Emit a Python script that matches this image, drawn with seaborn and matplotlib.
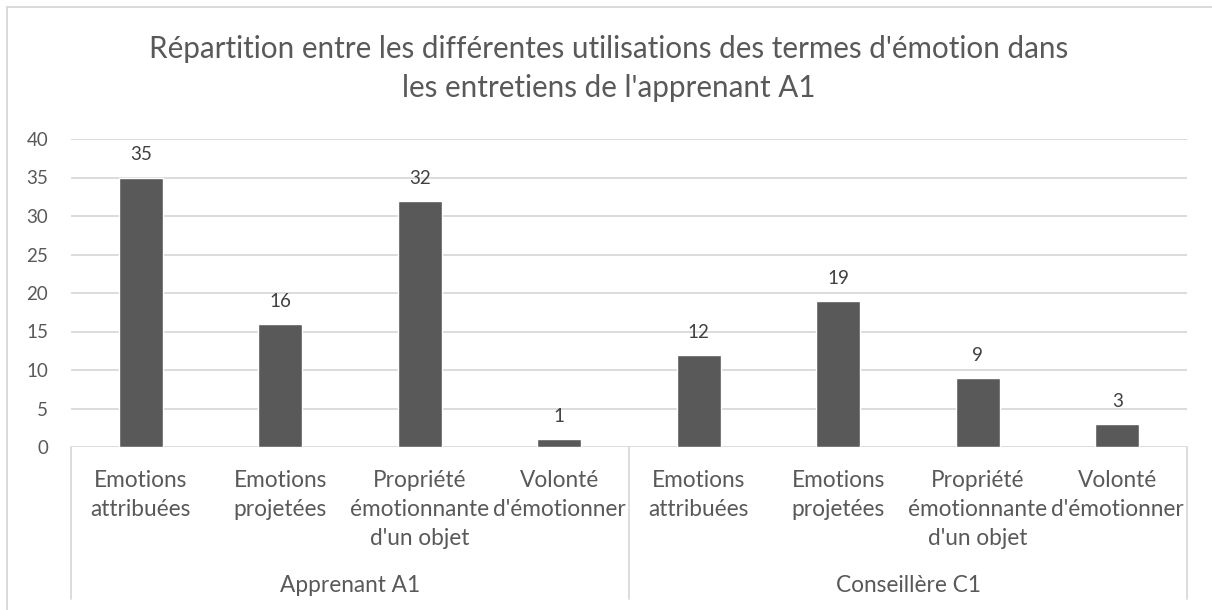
import matplotlib
matplotlib.use("Agg")
import matplotlib.pyplot as plt
from matplotlib.lines import Line2D
from matplotlib.transforms import blended_transform_factory
import seaborn as sns
import pandas as pd

# ---- data -------------------------------------------------------------
groups = ["Apprenant A1", "Conseillère C1"]
categories = [
    "Emotions\nattribuées",
    "Emotions\nprojetées",
    "Propriété\némotionnante\nd'un objet",
    "Volonté\nd'émotionner",
]
apprenant_values = [35, 16, 32, 1]
conseillere_values = [12, 19, 9, 3]
y_ticks = [0, 5, 10, 15, 20, 25, 30, 35, 40]
title_lines = [
    "Répartition entre les différentes utilisations des termes d'émotion dans",
    "les entretiens de l'apprenant A1",
]

# ---- styling ----------------------------------------------------------
sns.set_style("white")
plt.rcParams["font.family"] = ["Lato", "DejaVu Sans"]

BAR = "#595959"
GRID = "#d9d9d9"
TEXT = "#595959"
LABEL = "#404040"

W, H = 1212, 610
fig = plt.figure(figsize=(W / 100, H / 100), dpi=100)


def fy(px):
    """Figure fraction from a pixel row counted from the top."""
    return 1 - px / H


def fx(px):
    return px / W


left_px, right_px, top_px, base_px = 71, 1187, 139, 447
ax = fig.add_axes([fx(left_px), fy(base_px), fx(right_px) - fx(left_px),
                   fy(top_px) - fy(base_px)])

rows = []
for g, vals in zip(groups, [apprenant_values, conseillere_values]):
    for c, v in zip(categories, vals):
        rows.append({"key": f"{g}|{c}", "group": g, "cat": c, "value": v})
df = pd.DataFrame(rows)

sns.barplot(data=df, x="key", y="value", color=BAR, saturation=1,
            width=0.315, ax=ax, zorder=3)

ax.set_xlim(-0.5, len(df) - 0.5)
ax.set_ylim(0, 40)
ax.set_yticks(y_ticks)
ax.set_yticklabels([str(t) for t in y_ticks])
ax.set_xticks([])
ax.set_xlabel("")
ax.set_ylabel("")
for s in ax.spines.values():
    s.set_visible(False)
ax.yaxis.grid(True, color=GRID, linewidth=1.3, zorder=0)
ax.set_axisbelow(True)
ax.tick_params(axis="y", length=0, pad=16.5, labelsize=13.5, labelcolor=TEXT)

# value labels above bars
for i, v in enumerate(df["value"]):
    ax.annotate(str(v), (i, v), xytext=(0, 12.3), textcoords="offset points",
                ha="center", va="baseline", fontsize=13.5, color=LABEL)

# multi-level category axis
tr = blended_transform_factory(ax.transData, fig.transFigure)
line_px = [487, 516, 545]
for i, c in enumerate(df["cat"]):
    for j, part in enumerate(c.split("\n")):
        ax.text(i, fy(line_px[j]), part, transform=tr, ha="center",
                va="baseline", fontsize=16.3, color=TEXT, clip_on=False)

n = len(categories)
for k, g in enumerate(groups):
    ax.text(k * n + (n - 1) / 2, fy(592), g, transform=tr, ha="center",
            va="baseline", fontsize=16.3, color=TEXT, clip_on=False)

for xb in [-0.5, n - 0.5, 2 * n - 0.5]:
    ax.add_line(Line2D([xb, xb], [fy(base_px), fy(599)], transform=tr,
                       color=GRID, linewidth=1.3, clip_on=False))

# title
for line, base in zip(title_lines, [58, 97]):
    fig.text(fx(609), fy(base), line, ha="center", va="baseline",
             fontsize=21.3, color=TEXT)

# chart frame
fig.add_artist(Line2D([fx(7), fx(W + 5)], [fy(7), fy(7)], color=GRID,
                      linewidth=1.4, transform=fig.transFigure))
fig.add_artist(Line2D([fx(7), fx(7)], [fy(7), fy(H + 5)], color=GRID,
                      linewidth=1.4, transform=fig.transFigure))

fig.savefig("out.png", dpi=100, facecolor="white")
